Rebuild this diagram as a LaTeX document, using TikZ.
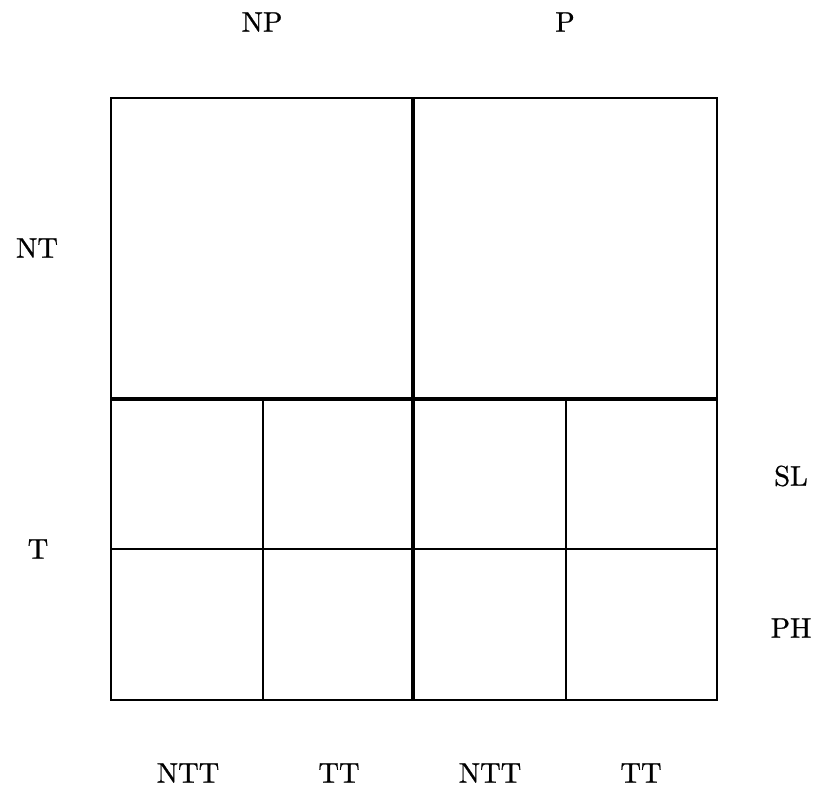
\documentclass[tikz,border=0pt]{standalone}
\usepackage{fontspec}
\newfontfamily\labfont{lmroman10-regular}[Extension=.otf,FakeBold=0.8]
\begin{document}
\begin{tikzpicture}[x=1pt,y=-1pt,
  thinline/.style={line width=1.4pt},
  thickline/.style={line width=3.6pt},
  lab/.style={font=\labfont\fontsize{28.5}{32}\selectfont, inner sep=0pt}]
\useasboundingbox (0,0) rectangle (822,794);
\coordinate (tl) at (111,98);
\coordinate (br) at (717,700);
\draw[thinline] (tl) rectangle (br);
\coordinate (ml) at (111,549); \coordinate (mr) at (717,549);
\draw[thinline] (ml) -- (mr);
\coordinate (v1t) at (263,399); \coordinate (v1b) at (263,700);
\coordinate (v3t) at (566,399); \coordinate (v3b) at (566,700);
\draw[thinline] (v1t) -- (v1b);
\draw[thinline] (v3t) -- (v3b);
\coordinate (ht1) at (111,399); \coordinate (ht2) at (717,399);
\coordinate (vt1) at (413,98); \coordinate (vt2) at (413,700);
\draw[thickline] (ht1) -- (ht2);
\draw[thickline] (vt1) -- (vt2);
\node[lab] (np) at (262,22) {NP};
\node[lab] (p) at (565,22) {P};
\node[lab] (nt) at (37,248) {NT};
\node[lab] (t) at (38,549) {T};
\node[lab] (sl) at (791,476) {SL};
\node[lab] (ph) at (791,628) {PH};
\node[lab] (ntt1) at (188,773) {NTT};
\node[lab] (tt1) at (339,773) {TT};
\node[lab] (ntt2) at (490,773) {NTT};
\node[lab] (tt2) at (641,773) {TT};
\end{tikzpicture}
\end{document}
